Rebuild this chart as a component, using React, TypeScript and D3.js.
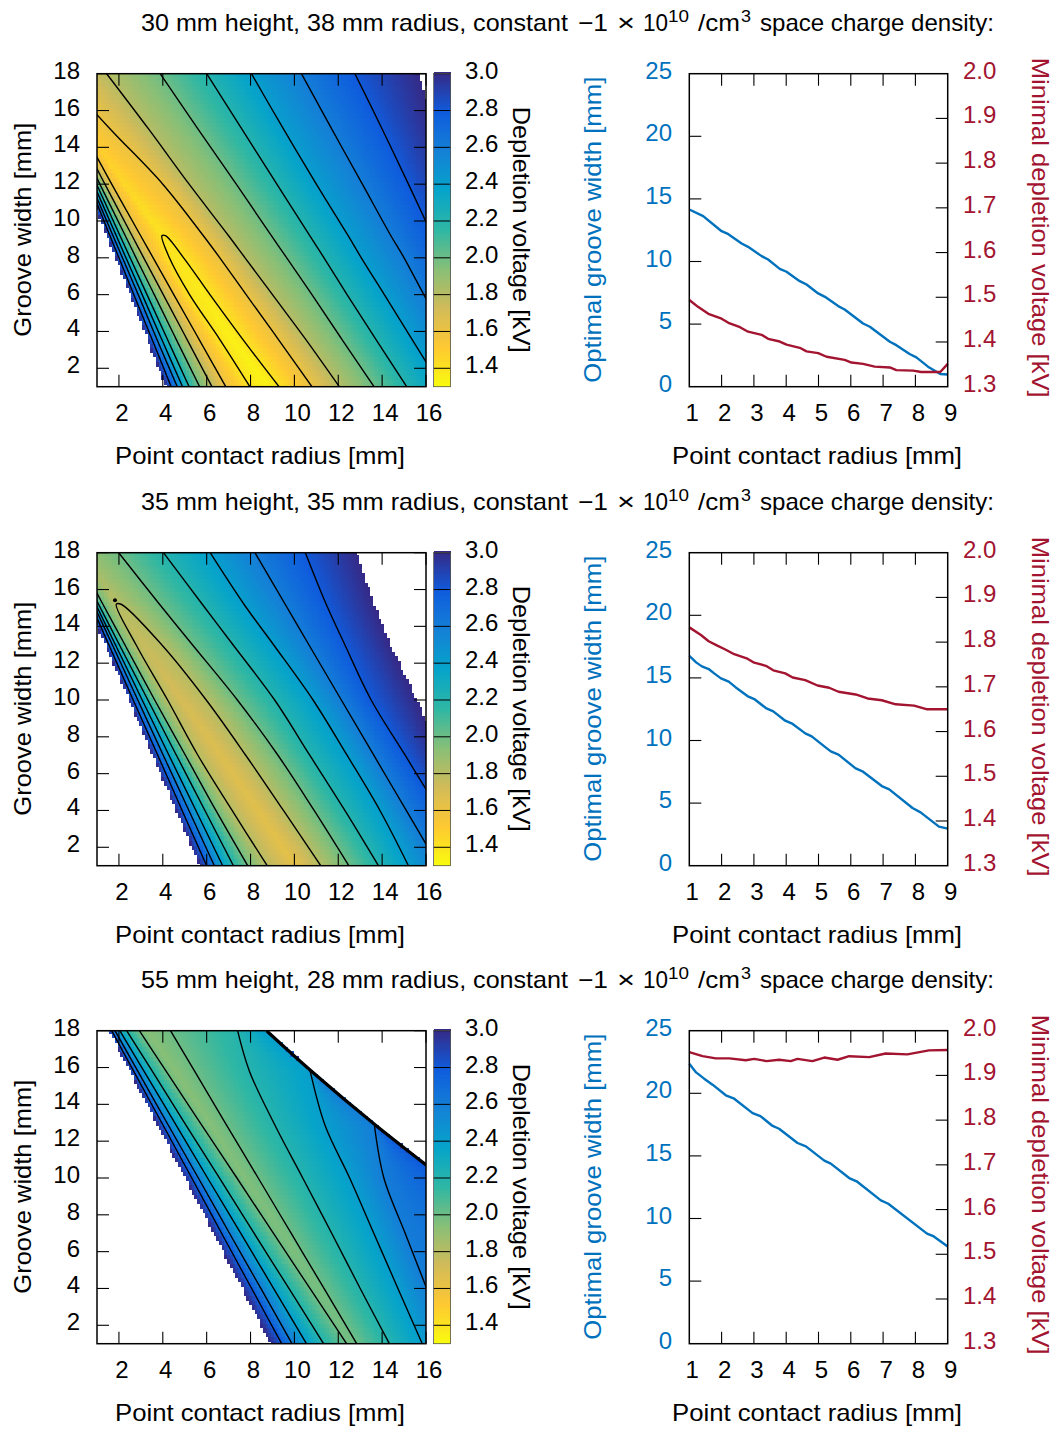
import * as d3 from 'd3';
import React from 'react';

const FONT = '"Liberation Sans", sans-serif';
const BLUE = '#0072bd';
const RED = '#a2142f';

// parula, top of the colour bar first
const paletteStops = ['#352a87', '#0f5cdd', '#1481d6', '#06a4ca', '#2eb7a4', '#87bf77', '#d1bb59', '#fec832', '#f9fb0e'];
const barTicks = [1.4, 1.6, 1.8, 2.0, 2.2, 2.4, 2.6, 2.8, 3.0];

const titles = [
    ['30 mm height, 38 mm radius, constant'],
    ['35 mm height, 35 mm radius, constant'],
    ['55 mm height, 28 mm radius, constant'],
];

// Panel 1: contour crossings, x [mm] at each groove width in rows1
const rows1 = [1, 3.6, 6, 8, 9.2, 12, 15, 18];
const valleyX1 = [8.85, 7.2, 5.9, 4.7, 4.02, 2.25, 0.45, -1.2];
const valleyV1 = [1.333, 1.345, 1.365, 1.385, 1.395, 1.445, 1.5, 1.56];
const leftLevels1 = [3.0, 2.8, 2.6, 2.4, 2.2, 2.0, 1.8, 1.6, 1.4];
const leftX1 = [
    [4.15, 3.3, 2.51, 1.85, 1.46, 0.54, -0.44, -3.0],
    [4.38, 3.5, 2.68, 2.0, 1.59, 0.64, -0.38, -2.8],
    [4.66, 3.72, 2.88, 2.16, 1.73, 0.73, -0.34, -2.6],
    [4.9, 3.94, 3.06, 2.32, 1.88, 0.85, -0.25, -2.4],
    [5.2, 4.2, 3.28, 2.51, 2.05, 0.98, -0.18, -2.2],
    [5.68, 4.6, 3.61, 2.78, 2.29, 1.13, -0.12, -2.0],
    [6.24, 5.09, 4.02, 3.13, 2.6, 1.36, 0.02, -1.8],
    [6.87, 5.64, 4.5, 3.56, 2.99, 1.67, 0.25, -1.6],
    [7.97, 6.58, 5.22, 4.3, 3.96, null, null, null],
];
const rightLevels1 = [1.4, 1.6, 1.8, 2.0, 2.2, 2.4, 2.6, 2.8, 3.0];
const rightX1 = [
    [9.3, 7.63, 6.15, 4.95, 4.12, null, null, null],
    [10.8, 9.25, 7.8, 6.6, 5.85, 4.0, 1.6, -0.7],
    [12.05, 10.5, 9.0, 7.75, 7.0, 5.2, 3.35, 1.44],
    [13.63, 12.15, 10.8, 9.65, 8.95, 7.35, 5.6, 3.88],
    [15.12, 13.7, 12.4, 11.35, 10.7, 9.2, 7.6, 6.0],
    [16.7, 15.35, 14.1, 13.05, 12.45, 11.0, 9.5, 8.04],
    [18.2, 17.0, 15.9, 15.0, 14.4, 13.1, 11.7, 10.32],
    [19.6, 18.6, 17.6, 16.8, 16.3, 15.2, 14.0, 12.76],
    [21.0, 20.2, 19.3, 18.6, 18.2, 17.3, 16.4, 15.67],
];

// Panel 2
const rows2 = [1, 4, 7, 10, 13, 15.2, 18];
const valleyX2 = [10.05, 8.35, 6.65, 4.85, 3.15, 1.9, 0.3];
const valleyV2 = [1.63, 1.65, 1.668, 1.7, 1.75, 1.795, 1.87];
const leftLevels2 = [3.0, 2.8, 2.6, 2.4, 2.2, 2.0, 1.8];
const leftX2 = [
    [5.7, 4.62, 3.55, 2.47, 1.39, 0.6, -0.4],
    [6.0, 4.88, 3.77, 2.65, 1.54, 0.72, -0.32],
    [6.35, 5.19, 4.02, 2.86, 1.7, 0.84, -0.24],
    [6.73, 5.51, 4.28, 3.06, 1.84, 0.94, -0.2],
    [7.22, 5.92, 4.62, 3.32, 2.02, 1.07, -0.15],
    [7.87, 6.42, 5.03, 3.63, 2.27, 1.27, 0.0],
    [8.76, 7.16, 5.6, 4.22, 2.78, 1.88, null],
];
const rightLevels2 = [1.8, 2.0, 2.2, 2.4, 2.6, 2.8, 3.0];
const rightX2 = [
    [11.2, 9.5, 7.78, 5.98, 3.95, 2.1, null],
    [12.48, 10.9, 9.25, 7.4, 5.35, 3.85, 1.99],
    [13.83, 12.3, 10.7, 9.1, 7.2, 5.8, 4.03],
    [15.2, 13.9, 12.4, 10.85, 9.05, 7.7, 6.16],
    [16.58, 15.1, 13.62, 12.14, 10.66, 9.58, 8.2],
    [18.2, 16.6, 15.05, 13.5, 12.3, 11.45, 10.5],
    [19.0, 17.8, 16.65, 15.57, 14.35, 13.6, 12.84],
];

// Panel 3
const rows3 = [1, 4, 7, 10, 12.85, 15.8, 18];
const valleyX3 = [12.6, 11.1, 9.45, 7.75, 6.2, 4.55, 3.3];
const valleyV3 = [1.985, 1.97, 1.958, 1.948, 1.94, 1.933, 1.937];
const leftLevels3 = [3.0, 2.8, 2.6, 2.4, 2.2, 2.0];
const leftX3 = [
    [8.93, 7.63, 6.33, 5.02, 3.79, 2.51, 1.55],
    [9.42, 8.05, 6.68, 5.32, 4.02, 2.67, 1.67],
    [9.89, 8.47, 7.04, 5.62, 4.26, 2.86, 1.82],
    [10.55, 9.05, 7.55, 6.04, 4.62, 3.14, 2.04],
    [11.33, 9.75, 8.16, 6.58, 5.07, 3.52, 2.35],
    [12.38, 10.71, 9.04, 7.38, 5.79, 4.15, 2.93],
];
const rightLevels3 = [2.0, 2.2, 2.4, 2.6, 2.8, 3.0];
const rightX3 = [
    [12.84, 11.35, 9.85, 8.35, 6.92, 5.45, 4.35],
    [14.33, 13.0, 11.7, 10.38, 9.12, 7.95, 7.41],
    [15.83, 14.72, 13.62, 12.52, 11.4, 10.72, 8.67],
    [17.0, 16.03, 15.05, 14.08, 13.65, 10.74, 8.69],
    [25.7, 22.7, 19.7, 16.7, 13.68, 10.76, 8.71],
    [25.75, 22.75, 19.75, 16.75, 13.72, 10.78, 8.73],
];
// where each right branch of panel 3 runs into the heavy edge; 0 = not drawn on its own
const rightStop3 = [18, 18, 15.8, 12.85, 0, 0];
// little blob of contour left of the 1.8 kV tip in panel 2
const blobX2 = 1.82;
const blobY2 = 15.42;

// Right hand plots
const widthR1 = [1, 1.43, 2.0, 2.21, 2.62, 2.82, 3.24, 3.44, 3.8, 4.01, 4.42, 4.63, 4.99, 5.2, 5.61, 5.81, 6.38, 6.59, 7.21, 7.41, 7.82, 8.03, 8.39, 8.77, 9];
const width1 = [14.15, 13.62, 12.42, 12.18, 11.44, 11.17, 10.43, 10.16, 9.41, 9.18, 8.43, 8.16, 7.45, 7.18, 6.44, 6.17, 5.05, 4.79, 3.59, 3.32, 2.61, 2.34, 1.6, 1.01, 0.98];
const voltR1 = [1, 1.28, 1.59, 2.0, 2.21, 2.57, 2.82, 3.24, 3.44, 3.8, 4.01, 4.42, 4.63, 4.99, 5.25, 5.81, 6.02, 6.38, 6.74, 7.21, 7.41, 7.93, 8.18, 8.77, 9];
const volt1 = [1.494, 1.478, 1.463, 1.452, 1.443, 1.433, 1.423, 1.416, 1.407, 1.401, 1.394, 1.387, 1.379, 1.375, 1.367, 1.36, 1.354, 1.351, 1.345, 1.343, 1.337, 1.336, 1.333, 1.333, 1.351];

const widthR2 = [1, 1.21, 1.39, 1.6, 1.77, 1.98, 2.22, 2.44, 2.8, 3.01, 3.37, 3.6, 3.97, 4.2, 4.59, 4.79, 5.18, 5.38, 5.62, 6.15, 6.38, 6.96, 7.19, 7.91, 8.16, 8.73, 9];
const width2 = [16.77, 16.24, 15.92, 15.71, 15.36, 14.96, 14.7, 14.24, 13.55, 13.31, 12.59, 12.33, 11.58, 11.32, 10.57, 10.33, 9.53, 9.13, 8.87, 7.77, 7.51, 6.36, 6.1, 4.61, 4.26, 3.12, 2.96];
const voltR2 = [1, 1.36, 1.6, 1.82, 2.13, 2.39, 2.8, 3.01, 3.37, 3.6, 3.97, 4.2, 4.59, 4.97, 5.33, 5.62, 6.15, 6.52, 6.96, 7.39, 7.96, 8.34, 9];
const volt2 = [1.833, 1.816, 1.802, 1.794, 1.783, 1.773, 1.763, 1.754, 1.747, 1.737, 1.73, 1.721, 1.715, 1.703, 1.698, 1.689, 1.683, 1.674, 1.67, 1.661, 1.658, 1.65, 1.65];

const widthR3 = [1, 1.21, 1.46, 1.72, 2.13, 2.39, 2.96, 3.2, 3.58, 3.78, 4.35, 4.61, 5.18, 5.38, 5.95, 6.18, 6.93, 7.16, 8.36, 8.57, 9];
const width3 = [22.36, 21.67, 21.17, 20.69, 19.84, 19.57, 18.42, 18.18, 17.39, 17.17, 16.03, 15.76, 14.62, 14.38, 13.23, 12.97, 11.45, 11.18, 8.79, 8.57, 7.77];
const voltR3 = [1, 1.41, 1.82, 2.24, 2.75, 3.01, 3.39, 3.78, 4.14, 4.35, 4.81, 5.18, 5.59, 5.95, 6.57, 7.08, 7.75, 8.42, 9];
const volt3 = [1.952, 1.943, 1.938, 1.938, 1.934, 1.937, 1.932, 1.935, 1.932, 1.937, 1.932, 1.94, 1.935, 1.943, 1.941, 1.949, 1.947, 1.956, 1.957];

const panels = [
    { top: 73.7, rows: rows1, vx: valleyX1, vv: valleyV1, ll: leftLevels1, lx: leftX1, rl: rightLevels1, rx: rightX1, stop: null, wr: widthR1, w: width1, sr: voltR1, s: volt1, heavy: false },
    { top: 552.7, rows: rows2, vx: valleyX2, vv: valleyV2, ll: leftLevels2, lx: leftX2, rl: rightLevels2, rx: rightX2, stop: null, wr: widthR2, w: width2, sr: voltR2, s: volt2, heavy: false },
    { top: 1030.7, rows: rows3, vx: valleyX3, vv: valleyV3, ll: leftLevels3, lx: leftX3, rl: rightLevels3, rx: rightX3, stop: rightStop3, wr: widthR3, w: width3, sr: voltR3, s: volt3, heavy: true },
];

const PH = 313;
const mapL = 97, mapR = 426;
const barL = 433.5, barR = 450.5;
const plotL = 689.3, plotR = 947.7;
const TICK = 12;

const colour = d3.scaleLinear<string>()
    .domain(paletteStops.map((_, i) => 3.0 - (1.7 * i) / 8))
    .range(paletteStops)
    .interpolate(d3.interpolateRgb);

// x position of one contour at groove width y, or null above its tip
function crossing(rows, col, y) {
    const keep = rows.map((r, i) => [r, col[i]]).filter(d => d[1] !== null);
    if (y < keep[0][0] || y > keep[keep.length - 1][0]) return null;
    return d3.scaleLinear().domain(keep.map(d => d[0])).range(keep.map(d => d[1]))(y);
}

// one row of the map as a piecewise scale x -> voltage
function rowScale(p, y) {
    const xs = [], vs = [];
    p.ll.forEach((lev, i) => {
        const x = crossing(p.rows, p.lx[i], y);
        if (x !== null) { xs.push(x); vs.push(lev); }
    });
    xs.push(crossing(p.rows, p.vx, y));
    vs.push(crossing(p.rows, p.vv, y));
    p.rl.forEach((lev, i) => {
        const x = crossing(p.rows, p.rx[i], y);
        if (x !== null) { xs.push(x); vs.push(lev); }
    });
    return d3.scaleLinear().domain(xs).range(vs);
}

const STEP_X = 0.125;
const STEP_Y = 0.25;
const gridX = d3.range(0, 121).map(i => 1 + i * STEP_X);
const gridY = d3.range(0, 69).map(i => 1 + i * STEP_Y);

function Txt({ x, y, children, fill = '#000', size = 24, anchor = 'start', rotate = 0, len = undefined }) {
    return (
        <text
            x={x} y={y} fill={fill} fontSize={size} fontFamily={FONT} textAnchor={anchor}
            textLength={len} lengthAdjust={len ? 'spacingAndGlyphs' : undefined}
            transform={rotate ? `rotate(${rotate} ${x} ${y})` : undefined}
        >{children}</text>
    );
}

function Title({ top, text }) {
    const y = top - 43;
    return (
        <g>
            <Txt x={141} y={y} size={24} len={427}>{text}</Txt>
            <Txt x={578} y={y} size={24} len={30}>−1</Txt>
            <Txt x={617} y={y} size={24} len={18}>×</Txt>
            <Txt x={643} y={y} size={24} len={25}>10</Txt>
            <Txt x={668} y={y - 9} size={17} len={21}>10</Txt>
            <Txt x={698} y={y} size={24} len={42}>/cm</Txt>
            <Txt x={741} y={y - 9} size={17} len={10}>3</Txt>
            <Txt x={760} y={y} size={24} len={234}>space charge density:</Txt>
        </g>
    );
}

function MapPanel({ p, idx }) {
    const bottom = p.top + PH;
    const xS = d3.scaleLinear().domain([1, 16]).range([mapL, mapR]);
    const yS = d3.scaleLinear().domain([1, 18]).range([bottom, p.top]);
    const barS = d3.scaleLinear().domain([1.3, 3.0]).range([bottom, p.top]);
    const clipId = `map-clip-${idx}`;
    const line = d3.line<number[]>().x(d => xS(d[0])).y(d => yS(d[1])).curve(d3.curveCatmullRom.alpha(0.5));

    const cells = [];
    gridY.forEach(y => {
        const sc = rowScale(p, y);
        gridX.forEach(x => {
            const v = sc(x);
            if (v > 3.0) return;
            cells.push({ x, y, v });
        });
    });

    const branch = (col, rows) => rows.map((r, i) => [col[i], r]).filter(d => d[0] !== null);
    const contours = [];
    p.ll.forEach((lev, i) => {
        if (lev >= 3.0) return;
        const j = p.rl.indexOf(lev);
        if (p.lx[i].includes(null)) {
            // closed at the tip: run up the left branch and down the right one
            contours.push({ pts: [...branch(p.lx[i], p.rows), ...branch(p.rx[j], p.rows).reverse()], w: 1.4 });
        } else {
            contours.push({ pts: branch(p.lx[i], p.rows), w: 1.4 });
            const stop = p.stop ? p.stop[j] : 18;
            const right = branch(p.rx[j], p.rows).filter(d => d[1] <= stop);
            if (right.length) contours.push({ pts: right, w: 1.4 });
        }
    });
    if (p.heavy) contours.push({ pts: branch(p.rx[p.rl.indexOf(3.0)], p.rows), w: 3.2 });

    const barSteps = d3.range(0, 171).map(i => 1.3 + i * 0.01);

    return (
        <g>
            <clipPath id={clipId}><rect x={mapL} y={p.top} width={mapR - mapL} height={PH} /></clipPath>
            <g clipPath={`url(#${clipId})`}>
                <g shapeRendering="crispEdges">
                    {cells.map((c, i) => (
                        <rect
                            key={i}
                            x={xS(c.x - STEP_X / 2)} y={yS(c.y + STEP_Y / 2)}
                            width={xS(1 + STEP_X) - xS(1) + 0.6} height={yS(1) - yS(1 + STEP_Y) + 0.6}
                            fill={colour(c.v)}
                        />
                    ))}
                </g>
                {contours.map((c, i) => (
                    <path key={i} d={line(c.pts)} fill="none" stroke="#000" strokeWidth={c.w} strokeLinejoin="round" />
                ))}
                {idx === 1 && <circle cx={xS(blobX2)} cy={yS(blobY2)} r={2} fill="#000" />}
            </g>

            {d3.range(2, 17, 2).map(t => (
                <g key={t}>
                    <line x1={xS(t)} x2={xS(t)} y1={bottom} y2={bottom - TICK} stroke="#000" strokeWidth={1.1} />
                    <line x1={xS(t)} x2={xS(t)} y1={p.top} y2={p.top + TICK} stroke="#000" strokeWidth={1.1} />
                    <Txt x={xS(t) + 3} y={bottom + 34} anchor="middle">{t}</Txt>
                </g>
            ))}
            {d3.range(2, 19, 2).map(t => (
                <g key={t}>
                    <line x1={mapL} x2={mapL + TICK} y1={yS(t)} y2={yS(t)} stroke="#000" strokeWidth={1.1} />
                    <line x1={mapR} x2={mapR - TICK} y1={yS(t)} y2={yS(t)} stroke="#000" strokeWidth={1.1} />
                    <Txt x={80} y={yS(t) + 5} anchor="end">{t}</Txt>
                </g>
            ))}
            <rect x={mapL} y={p.top} width={mapR - mapL} height={PH} fill="none" stroke="#000" strokeWidth={1.5} />

            <g shapeRendering="crispEdges">
                {barSteps.map(v => (
                    <rect key={v} x={barL} y={barS(v + 0.01)} width={barR - barL} height={barS(v) - barS(v + 0.01) + 0.6} fill={colour(v)} />
                ))}
            </g>
            {barTicks.map(t => (
                <g key={t}>
                    <line x1={barL} x2={barR} y1={barS(t)} y2={barS(t)} stroke="#000" strokeWidth={1} />
                    <Txt x={465} y={barS(t) + 5}>{t.toFixed(1)}</Txt>
                </g>
            ))}
            <rect x={barL} y={p.top} width={barR - barL} height={PH} fill="none" stroke="#555" strokeWidth={0.8} />

            <Txt x={260} y={bottom + 77} anchor="middle" len={290}>Point contact radius [mm]</Txt>
            <Txt x={31} y={p.top + 156} anchor="middle" rotate={-90} len={214}>Groove width [mm]</Txt>
            <Txt x={513} y={p.top + 156} anchor="middle" rotate={90} len={246}>Depletion voltage [kV]</Txt>
        </g>
    );
}

function CurvePanel({ p }) {
    const bottom = p.top + PH;
    const xS = d3.scaleLinear().domain([1, 9]).range([plotL, plotR]);
    const wS = d3.scaleLinear().domain([0, 25]).range([bottom, p.top]);
    const vS = d3.scaleLinear().domain([1.3, 2.0]).range([bottom, p.top]);
    const widthLine = d3.line<number>().x((_, i) => xS(p.wr[i])).y(d => wS(d));
    const voltLine = d3.line<number>().x((_, i) => xS(p.sr[i])).y(d => vS(d));

    return (
        <g>
            <path d={widthLine(p.w)} fill="none" stroke={BLUE} strokeWidth={2.4} strokeLinejoin="round" />
            <path d={voltLine(p.s)} fill="none" stroke={RED} strokeWidth={2.4} strokeLinejoin="round" />

            {d3.range(1, 10).map(t => (
                <g key={t}>
                    {t > 1 && t < 9 && <line x1={xS(t)} x2={xS(t)} y1={bottom} y2={bottom - TICK} stroke="#000" strokeWidth={1.1} />}
                    {t > 1 && t < 9 && <line x1={xS(t)} x2={xS(t)} y1={p.top} y2={p.top + TICK} stroke="#000" strokeWidth={1.1} />}
                    <Txt x={xS(t) + 3} y={bottom + 34} anchor="middle">{t}</Txt>
                </g>
            ))}
            {d3.range(0, 26, 5).map(t => (
                <g key={t}>
                    {t > 0 && t < 25 && <line x1={plotL} x2={plotL + TICK} y1={wS(t)} y2={wS(t)} stroke="#000" strokeWidth={1.1} />}
                    <Txt x={672} y={wS(t) + 5} anchor="end" fill={BLUE}>{t}</Txt>
                </g>
            ))}
            {d3.range(0, 8).map(i => 1.3 + i * 0.1).map(t => (
                <g key={t}>
                    {t > 1.35 && t < 1.95 && <line x1={plotR} x2={plotR - TICK} y1={vS(t)} y2={vS(t)} stroke="#000" strokeWidth={1.1} />}
                    <Txt x={963} y={vS(t) + 5} fill={RED}>{t.toFixed(1)}</Txt>
                </g>
            ))}
            <rect x={plotL} y={p.top} width={plotR - plotL} height={PH} fill="none" stroke="#000" strokeWidth={1.5} />

            <Txt x={817} y={bottom + 77} anchor="middle" len={290}>Point contact radius [mm]</Txt>
            <Txt x={601} y={p.top + 156} anchor="middle" rotate={-90} fill={BLUE} len={306}>Optimal groove width [mm]</Txt>
            <Txt x={1032} y={p.top + 154} anchor="middle" rotate={90} fill={RED} len={340}>Minimal depletion voltage [kV]</Txt>
        </g>
    );
}

export default function App() {
    return (
        <svg width={1061} height={1430} style={{ position: 'absolute', left: 0, top: 0, background: '#fff' }}>
            {panels.map((p, i) => (
                <g key={i}>
                    <Title top={p.top} text={titles[i][0]} />
                    <MapPanel p={p} idx={i} />
                    <CurvePanel p={p} />
                </g>
            ))}
        </svg>
    );
}
